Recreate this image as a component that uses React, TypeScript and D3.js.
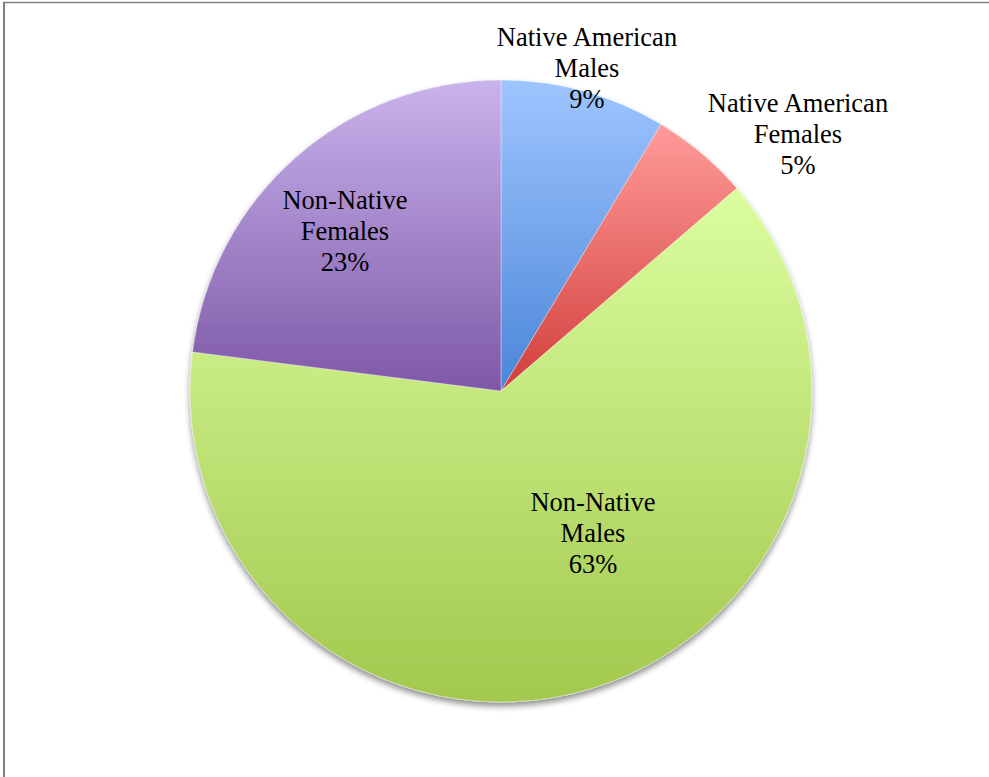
import React from "react";
import * as d3 from "d3";

const categories = [
  "Native American Males",
  "Native American Females",
  "Non-Native Males",
  "Non-Native Females",
];
const labelLines = [
  ["Native American", "Males"],
  ["Native American", "Females"],
  ["Non-Native", "Males"],
  ["Non-Native", "Females"],
];
const values = [8.6, 5.1, 63.3, 23.0];
const percentLabels = ["9%", "5%", "63%", "23%"];
const gradTop = ["#9fc5ff", "#ff9c9a", "#dcfd9f", "#c9b3ec"];
const gradBottom = ["#4a86d8", "#d23e3b", "#a2c84d", "#7d58a7"];

const W = 989;
const H = 777;
const cx = 501;
const cy = 391;
const R = 311;

// label anchors (center x, first baseline)
const labelPos = [
  [587, 46],
  [798, 112],
  [593, 511],
  [345, 209],
];

const FONT = "Liberation Serif";

export default function App() {
  const pie = d3
    .pie<number>()
    .sort(null)
    .value((d) => d)
    .startAngle(0)
    .endAngle(2 * Math.PI);
  const arcs = pie(values);
  const arcGen = d3.arc<d3.PieArcDatum<number>>().innerRadius(0).outerRadius(R);

  return (
    <svg
      width={W}
      height={H}
      style={{ position: "absolute", left: 0, top: 0, background: "#fff" }}
    >
      <defs>
        {arcs.map((a, i) => (
          <linearGradient key={i} id={`g${i}`} x1="0" y1="0" x2="0" y2="1">
            <stop offset="0" stopColor={gradTop[i]} />
            <stop offset="1" stopColor={gradBottom[i]} />
          </linearGradient>
        ))}
        <filter id="shadow" x="-10%" y="-10%" width="120%" height="120%">
          <feGaussianBlur in="SourceAlpha" stdDeviation="3" />
          <feOffset dx="0" dy="4" result="ob" />
          <feComponentTransfer>
            <feFuncA type="linear" slope="0.45" />
          </feComponentTransfer>
          <feMerge>
            <feMergeNode />
            <feMergeNode in="SourceGraphic" />
          </feMerge>
        </filter>
      </defs>
      <rect x={0} y={0} width={W} height={H} fill="#fff" />
      <line x1={3} y1={2.5} x2={W} y2={2.5} stroke="#808080" strokeWidth={1.5} />
      <line x1={4} y1={2} x2={4} y2={H} stroke="#808080" strokeWidth={2} />
      <g transform={`translate(${cx},${cy})`} filter="url(#shadow)">
        {arcs.map((a, i) => (
          <path
            key={categories[i]}
            d={arcGen(a) || ""}
            fill={`url(#g${i})`}
            stroke="rgba(255,255,255,0.45)"
            strokeWidth={0.8}
          />
        ))}
      </g>
      {arcs.map((a, i) => (
        <text
          key={`t${i}`}
          x={labelPos[i][0]}
          y={labelPos[i][1]}
          textAnchor="middle"
          fontFamily={FONT}
          fontSize={26.5}
          fill="#000"
        >
          {[...labelLines[i], percentLabels[i]].map((s, j) => (
            <tspan key={j} x={labelPos[i][0]} y={labelPos[i][1] + j * 31}>
              {s}
            </tspan>
          ))}
        </text>
      ))}
    </svg>
  );
}
